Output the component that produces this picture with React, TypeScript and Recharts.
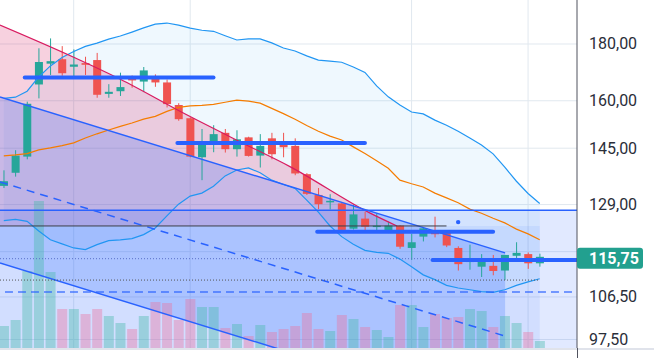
import { ComposedChart, XAxis, YAxis, CartesianGrid, Bar, Line, Area, Scatter, Cell } from 'recharts';

// daily candles, k = 0..46
const opens = [134.1, 137.8, 142.5, 165.5, 172.8, 174.4, 171.7, 173.0, 174.1, 162.3, 163.2, 168.3, 166.5, 168.1, 166.2, 158.6, 154.3, 142.3, 147.0, 149.7, 144.7, 148.3, 142.8, 148.0, 146.0, 145.7, 137.4, 131.6, 129.8, 129.3, 122.7, 125.3, 123.4, 122.3, 123.5, 117.9, 120.7, 122.2, 121.8, 117.9, 114.5, 113.4, 113.6, 112.5, 116.0, 116.4, 114.2];
const highs = [138.5, 144.4, 159.7, 178.4, 182.1, 179.2, 178.0, 175.3, 176.7, 165.6, 169.6, 168.6, 171.6, 169.0, 167.2, 159.2, 154.6, 150.9, 152.1, 150.9, 150.5, 148.5, 149.3, 149.7, 149.7, 148.0, 137.7, 133.5, 131.8, 129.5, 129.0, 127.1, 126.7, 124.5, 123.6, 121.4, 123.1, 125.8, 122.3, 118.3, 118.7, 116.4, 116.2, 116.2, 119.3, 116.8, 116.5];
const lows = [133.5, 136.7, 141.7, 160.8, 168.8, 168.5, 167.6, 168.8, 161.0, 161.0, 161.6, 164.4, 162.9, 164.7, 157.8, 153.5, 142.3, 135.7, 143.8, 143.7, 142.5, 142.5, 139.3, 141.7, 142.3, 137.1, 131.6, 127.8, 127.7, 121.9, 122.5, 121.9, 122.1, 121.6, 117.7, 115.0, 119.5, 120.5, 118.1, 112.5, 112.7, 111.0, 111.4, 110.3, 114.6, 112.9, 113.4];
const closes = [135.4, 142.8, 159.0, 173.4, 173.7, 169.4, 172.5, 172.4, 162.0, 163.0, 164.6, 166.9, 170.4, 166.2, 158.9, 154.0, 142.5, 147.1, 149.3, 144.7, 147.7, 142.7, 145.7, 143.2, 145.3, 137.6, 131.9, 129.1, 130.0, 122.4, 126.4, 123.2, 123.5, 123.5, 118.2, 119.3, 122.8, 121.3, 118.5, 114.0, 115.0, 115.4, 112.4, 116.2, 116.7, 114.2, 115.75];
const volumes = [22, 28, 77, 147, 76, 39, 39, 34, 39, 32, 25, 19, 32, 46, 45, 28, 49, 41, 41, 20, 24, 12, 23, 16, 19, 22, 35, 19, 17, 33, 29, 21, 18, 11, 43, 43, 21, 34, 30, 31, 39, 37, 21, 32, 25, 16, 7];

// bollinger bands
const bbUpper = [160.8, 161.2, 163.2, 168.1, 172.0, 175.0, 177.2, 179.1, 180.3, 181.8, 183.0, 184.5, 186.1, 187.6, 188.0, 187.2, 186.0, 185.2, 184.8, 183.1, 181.5, 181.9, 181.9, 180.4, 178.5, 177.4, 175.6, 174.1, 173.7, 173.3, 171.6, 169.7, 165.0, 161.3, 158.6, 156.3, 155.7, 153.7, 152.1, 150.2, 148.1, 146.0, 143.3, 139.4, 135.4, 132.0, 129.3];
const bbMiddle = [142.7, 143.0, 143.4, 144.5, 145.1, 145.8, 146.6, 148.1, 149.4, 150.6, 151.7, 152.8, 154.0, 154.9, 156.5, 157.8, 158.3, 158.5, 158.8, 159.5, 160.2, 159.9, 159.2, 157.5, 155.8, 154.0, 152.0, 150.2, 148.7, 147.5, 145.4, 143.4, 141.3, 139.1, 135.7, 134.7, 133.8, 132.1, 130.8, 129.5, 127.8, 126.7, 125.4, 124.2, 122.6, 121.4, 119.9];
const bbLower = [124.8, 125.1, 124.6, 122.1, 119.9, 118.9, 117.9, 117.5, 118.7, 119.7, 119.9, 120.2, 121.2, 122.9, 126.0, 129.1, 131.3, 132.1, 134.0, 136.9, 138.6, 139.2, 137.8, 135.7, 134.5, 133.4, 130.2, 127.0, 123.4, 120.7, 118.8, 117.3, 116.8, 116.6, 115.2, 113.4, 111.5, 110.4, 109.1, 108.5, 108.1, 107.7, 107.5, 108.1, 109.1, 109.9, 110.6];

// drawings (k = bar index, p = price)
const redTrend = [
  { k: -0.33, p: 187.2 }, { k: 6, p: 175.1 }, { k: 10, p: 167.3 }, { k: 15.7, p: 155.4 },
  { k: 20.3, p: 146.9 }, { k: 24.6, p: 139.5 }, { k: 31.4, p: 126.8 }, { k: 33.75, p: 123.4 },
];
const channel = [
  { k: -0.33, top: 161.3, mid: 135.2, bot: 114.3 },
  { k: 43.03, top: 116.7, mid: 98.2, bot: 82.7 },
];
const thickLevels = [
  { from: 1.8, to: 18, p: 167.9 },
  { from: 14.9, to: 31, p: 146.6 },
  { from: 26.9, to: 42, p: 121.9 },
  { from: 36.8, to: 49.3, p: 115.0 },
];
const zoneTop = 127.5;
const zoneMid = 123.4;
const lastPrice = 115.75;
const priceTicks = [97.5, 106.5, 115.75, 129, 145, 160, 180];
const gridPrices = [97.5, 106.5, 117, 129, 145, 160, 180];
const gridBars = [6, 16, 35, 45];

const X0 = -0.326;
const X1 = 49.2;
const P0 = 95.8;
const P1 = 197.2;

const data = opens.map((o, i) => ({
  k: i, o, h: highs[i], l: lows[i], c: closes[i], vol: volumes[i],
  up: bbUpper[i], mid: bbMiddle[i], lo: bbLower[i],
}));

const UP = '#26a69a';
const DOWN = '#ef5350';
const BLUE = '#2962ff';

const fmt = (v: number) => v.toFixed(2).replace('.', ',');

const seg = (from: number, to: number, p: number) => [{ k: from, p }, { k: to, p }];

const Candle = (props: any) => {
  const { x, y, width, height, payload } = props;
  if (!payload) return null;
  const { o, h, l, c } = payload;
  const top = Math.min(y, y + height);
  const hgt = Math.abs(height);
  const lh = Math.log(h);
  const span = lh - Math.log(l) || 1;
  const yOf = (p: number) => top + ((lh - Math.log(p)) / span) * hgt;
  const color = c >= o ? UP : DOWN;
  const b1 = Math.min(yOf(o), yOf(c));
  const b2 = Math.max(yOf(o), yOf(c));
  const cx = x + width / 2;
  return (
    <g>
      <line x1={cx} x2={cx} y1={top} y2={top + hgt} stroke={color} strokeWidth={1} />
      <rect x={x} y={b1} width={width} height={Math.max(b2 - b1, 1.5)} fill={color} />
    </g>
  );
};

const PriceTick = (props: any) => {
  const { x, y, payload } = props;
  const v = payload.value;
  if (v === lastPrice) {
    return (
      <g>
        <rect x={x - 12} y={y - 9} width={66} height={21} rx={3} fill="#22a08f" />
        <text x={x} y={y} dy={7} fill="#ffffff" fontSize={16} fontWeight="bold">{fmt(v)}</text>
      </g>
    );
  }
  return <text x={x} y={y} dy={5.5} fill="#2a2e39" fontSize={16}>{fmt(v)}</text>;
};

const noDot = { dot: false, activeDot: false, isAnimationActive: false } as const;

export default function App() {
  return (
    <div style={{ position: 'absolute', left: 0, top: 0, width: 662, height: 358, background: '#fff', fontFamily: 'Roboto, sans-serif' }}>
      <ComposedChart width={662} height={358} data={data} margin={{ top: 0, right: 0, bottom: 10, left: 0 }}>
        <CartesianGrid stroke="#e1e8ef" horizontalValues={gridPrices} verticalValues={gridBars} />
        <XAxis type="number" dataKey="k" domain={[X0, X1]} allowDataOverflow hide />
        <XAxis xAxisId="c" type="number" dataKey="k" domain={[X0, X1]} allowDataOverflow hide />
        <XAxis xAxisId="vx" type="number" dataKey="k" domain={[X0, X1]} allowDataOverflow hide />
        <YAxis
          orientation="right"
          scale="log"
          domain={[P0, P1]}
          allowDataOverflow
          ticks={priceTicks}
          interval={0}
          width={85}
          tickLine={false}
          tickSize={0}
          tickMargin={12}
          axisLine={{ stroke: '#50535e' }}
          tick={<PriceTick />}
        />
        <YAxis yAxisId="v" domain={[0, 348]} hide />

        {/* fills */}
        <Area data={data} dataKey={(d: any) => [d.lo, d.up]} type="linear" fill="#2196f3" fillOpacity={0.07} stroke="none" {...noDot} />
        <Area data={redTrend} dataKey={(d: any) => [zoneMid, d.p]} type="monotone" fill="#d81b60" fillOpacity={0.2} stroke="none" {...noDot} />
        <Area data={channel} dataKey={(d: any) => [d.bot, d.top]} type="linear" fill={BLUE} fillOpacity={0.225} stroke="none" {...noDot} />
        <Area data={seg(X0, 49.4, zoneTop)} dataKey={(d: any) => [P0, d.p]} type="linear" fill={BLUE} fillOpacity={0.14} stroke="none" {...noDot} />
        <Area data={seg(X0, 46, zoneMid)} dataKey={(d: any) => [P0, d.p]} type="linear" fill={BLUE} fillOpacity={0.08} stroke="none" {...noDot} />

        {/* volume */}
        <Bar xAxisId="vx" yAxisId="v" dataKey="vol" barSize={10} isAnimationActive={false}>
          {data.map((d) => (
            <Cell key={`v-${d.k}`} fill={d.c >= d.o ? '#3fb8a6' : '#ec6f9a'} fillOpacity={0.38} />
          ))}
        </Bar>

        {/* candles */}
        <Bar xAxisId="c" dataKey={(d: any) => [d.l, d.h]} barSize={8} shape={<Candle />} isAnimationActive={false} />

        {/* bands */}
        <Line data={data} dataKey="up" stroke="#2196f3" strokeWidth={1.2} {...noDot} />
        <Line data={data} dataKey="lo" stroke="#2196f3" strokeWidth={1.2} {...noDot} />
        <Line data={data} dataKey="mid" stroke="#f57c00" strokeWidth={1.2} {...noDot} />

        {/* trend + channel */}
        <Line data={redTrend} dataKey="p" type="monotone" stroke="#d81b60" strokeWidth={1.2} {...noDot} />
        <Line data={channel} dataKey="top" type="linear" stroke={BLUE} strokeWidth={1.5} {...noDot} />
        <Line data={channel} dataKey="mid" type="linear" stroke={BLUE} strokeWidth={1.5} strokeDasharray="8 6" {...noDot} />
        <Line data={channel} dataKey="bot" type="linear" stroke={BLUE} strokeWidth={1.5} {...noDot} />

        {/* horizontal levels */}
        <Line data={seg(X0, 49.4, zoneTop)} dataKey="p" stroke={BLUE} strokeWidth={1.4} {...noDot} />
        <Line data={seg(X0, 38, zoneMid)} dataKey="p" stroke="#3c3f48" strokeWidth={1} {...noDot} />
        <Line data={seg(X0, 49.4, 115.3)} dataKey="p" stroke="#5a6fc8" strokeWidth={1} strokeDasharray="1 2" {...noDot} />
        <Line data={seg(X0, 46, 110.3)} dataKey="p" stroke="#555" strokeWidth={1} strokeDasharray="1 2" {...noDot} />
        <Line data={seg(0.1, 49.3, 107.6)} dataKey="p" stroke={BLUE} strokeOpacity={0.8} strokeWidth={1.5} strokeDasharray="8 5" {...noDot} />
        {thickLevels.map((t, i) => (
          <Line key={`t-${i}`} data={seg(t.from, t.to, t.p)} dataKey="p" stroke={BLUE} strokeWidth={4} strokeLinecap="round" {...noDot} />
        ))}
        <Scatter data={[{ k: 39, p: 124.4 }]} dataKey="p" isAnimationActive={false} shape={(p: any) => <circle cx={p.cx} cy={p.cy} r={2.2} fill={BLUE} />} />
      </ComposedChart>
      <div style={{ position: 'absolute', left: 0, top: 348, width: 654, height: 2, background: '#e0e3eb' }} />
      <div style={{ position: 'absolute', left: 577, top: 348, width: 1, height: 10, background: '#50535e' }} />
    </div>
  );
}
